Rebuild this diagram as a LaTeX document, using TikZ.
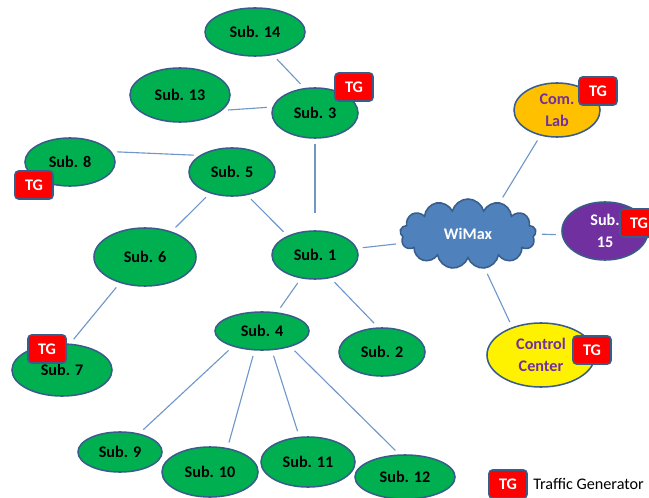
\documentclass[tikz,border=0pt]{standalone}
\usepackage{fontspec}
\setmainfont{Carlito}
\usetikzlibrary{shapes.geometric,shapes.symbols}
\definecolor{subgreen}{HTML}{00B050}
\definecolor{edgeblue}{HTML}{385D8A}
\definecolor{linkblue}{HTML}{6F97C9}
\definecolor{cloudblue}{HTML}{4F81BD}
\definecolor{labor}{HTML}{FFC000}
\definecolor{violet15}{HTML}{7030A0}
\definecolor{tgred}{HTML}{FF0000}

\begin{document}
\begin{tikzpicture}[x=0.025cm,y=-0.025cm,
    sub/.style={ellipse,draw=edgeblue,line width=1.1pt,fill=subgreen,inner sep=0pt,
      align=center,font=\fontsize{11.5}{15.5}\selectfont\bfseries},
    tg/.style={rectangle,rounded corners=2.5pt,draw=edgeblue,line width=1.1pt,fill=tgred,
      text=white,minimum width=0.95cm,minimum height=0.7cm,inner sep=0pt,
      font=\fontsize{11.5}{13}\selectfont\bfseries},
    link/.style={draw=linkblue,line width=0.8pt,shorten >=4pt,shorten <=4pt}]
  \useasboundingbox (0,0) rectangle (649,498);

  % substations
  \node[sub,minimum width=2.5cm,minimum height=1.2cm] (S14) at (255,32) {Sub. 14};
  \node[sub,minimum width=2.5cm,minimum height=1.35cm] (S13) at (180,95) {Sub. 13};
  \node[sub,minimum width=2.15cm,minimum height=1.25cm] (S3) at (315,113) {Sub. 3};
  \node[sub,minimum width=2.25cm,minimum height=1.2cm] (S8) at (70,162) {Sub. 8};
  \node[sub,minimum width=2.15cm,minimum height=1.2cm] (S5) at (232,172) {Sub. 5};
  \node[sub,minimum width=2.55cm,minimum height=1.45cm] (S6) at (145,257) {Sub. 6};
  \node[sub,minimum width=2.15cm,minimum height=1.2cm] (S1) at (315,255) {Sub. 1};
  \node[sub,minimum width=2.5cm,minimum height=1.3cm] (S7) at (62,370) {Sub. 7};
  \node[sub,minimum width=2.35cm,minimum height=0.95cm] (S4) at (262,331) {Sub. 4};
  \node[sub,minimum width=2.15cm,minimum height=1.2cm] (S2) at (382,352) {Sub. 2};
  \node[sub,minimum width=2.1cm,minimum height=1.0cm] (S9) at (120,452) {Sub. 9};
  \node[sub,minimum width=2.4cm,minimum height=1.25cm] (S10) at (210,472) {Sub. 10};
  \node[sub,minimum width=2.35cm,minimum height=1.25cm] (S11) at (308,462) {Sub. 11};
  \node[sub,minimum width=2.5cm,minimum height=1.1cm] (S12) at (405,477) {Sub. 12};

  \node[sub,fill=labor,text=violet15,minimum width=2.15cm,minimum height=1.35cm] (ComLab) at (557,110) {Com.\\Lab};
  \node[sub,fill=violet15,text=white,minimum width=2.15cm,minimum height=1.45cm] (S15) at (605,231) {Sub.\\15};
  \node[sub,fill=yellow,text=violet15,minimum width=2.7cm,minimum height=1.6cm] (CC) at (541,355) {Control\\Center};

  \node[cloud,cloud puffs=13,aspect=2,draw=edgeblue,line width=1.1pt,fill=cloudblue,text=white,
    minimum width=3.4cm,minimum height=1.75cm,font=\fontsize{11.5}{13}\selectfont\bfseries] (WiMax) at (468,234) {WiMax};

  % links
  \draw[link] (S14.-52) to (S3.113);
  \draw[link] (S13.-20) to (S3.172);
  \draw[link,shorten >=12pt] (S3.south) to (S1.north);
  \draw[link] (S8.14) to (S5.153);
  \draw[link] (S5.-136) to (S6.44);
  \draw[link] (S5.-57) to (S1.145);
  \draw[link] (S6.-134) to (S7.73);
  \draw[link] (S1.-121) to (S4.51);
  \draw[link] (S1.-56) to (S2.99);
  \draw[link] (S1.9) to (WiMax.-172);
  \draw[link] (S4.-152) to (S9.44);
  \draw[link] (S4.-111) to (S10.54);
  \draw[link] (S4.-63) to (S11.109);
  \draw[link] (S4.-29) to (S12.104);
  \draw[link] (WiMax.45) to (ComLab.-123);
  \draw[link] (WiMax.east) to (S15.185);
  \draw[link] (WiMax.-64) to (CC.136);

  % traffic generators
  \node[tg] (TG3) at (354,87) {TG};
  \node[tg] (TG8) at (34,185) {TG};
  \node[tg] (TG7) at (47,349) {TG};
  \node[tg] (TGlab) at (598,91) {TG};
  \node[tg] (TG15) at (639,223) {TG};
  \node[tg] (TGcc) at (592,350) {TG};

  % legend
  \node[tg] (TGkey) at (508,484) {TG};
  \node[anchor=west,inner sep=0pt,font=\fontsize{11.5}{13}\selectfont] (key) at (533,484) {Traffic Generator};
\end{tikzpicture}
\end{document}
